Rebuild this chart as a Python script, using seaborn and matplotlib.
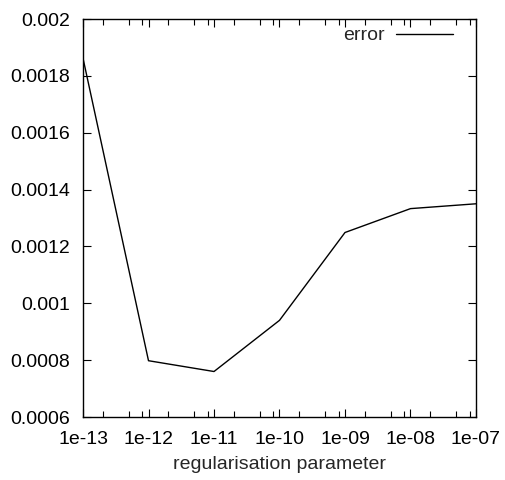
import matplotlib
matplotlib.use("Agg")
import matplotlib.pyplot as plt
import seaborn as sns
import pandas as pd
from matplotlib.ticker import FixedLocator, FixedFormatter, NullFormatter

# data
reg_params = [1e-13, 1e-12, 1e-11, 1e-10, 1e-09, 1e-08, 1e-07]
errors = [0.001862, 0.000798, 0.000760, 0.000940, 0.001249, 0.001333, 0.001350]
x_tick_labels = ["1e-13", "1e-12", "1e-11", "1e-10", "1e-09", "1e-08", "1e-07"]
y_ticks = [0.0006, 0.0008, 0.001, 0.0012, 0.0014, 0.0016, 0.0018, 0.002]
y_tick_labels = ["0.0006", "0.0008", "0.001", "0.0012", "0.0014", "0.0016", "0.0018", "0.002"]
minor_subs = [2, 5, 8]
series_name = "error"
x_label = "regularisation parameter"

sns.set_theme(style="ticks")
plt.rcParams["font.family"] = ["Liberation Sans", "DejaVu Sans"]

fig = plt.figure(figsize=(5.06, 4.80), dpi=100)
ax = fig.add_axes([83 / 506, 1 - 417 / 480, (476 - 83) / 506, (417 - 19) / 480])

df = pd.DataFrame({"x": reg_params, "y": errors, "series": series_name})
sns.lineplot(data=df, x="x", y="y", hue="series", palette=["black"], ax=ax, linewidth=1.0)

ax.set_xscale("log")
ax.set_xlim(reg_params[0], reg_params[-1])
ax.set_ylim(y_ticks[0], y_ticks[-1])

ax.xaxis.set_major_locator(FixedLocator(reg_params))
ax.xaxis.set_major_formatter(FixedFormatter(x_tick_labels))
ax.xaxis.set_minor_locator(FixedLocator([d * s for d in reg_params[:-1] for s in minor_subs]))
ax.xaxis.set_minor_formatter(NullFormatter())
ax.yaxis.set_major_locator(FixedLocator(y_ticks))
ax.yaxis.set_major_formatter(FixedFormatter(y_tick_labels))

ax.tick_params(which="major", direction="in", length=6, width=0.8, top=True, right=True,
               labelsize=14, colors="black")
ax.tick_params(axis="x", which="major", pad=10)
ax.tick_params(axis="y", which="major", pad=9)
ax.tick_params(axis="x", which="minor", direction="in", length=4, width=0.8,
               top=True, bottom=True, color="black")
for s in ax.spines.values():
    s.set_visible(True)
    s.set_linewidth(1.0)
    s.set_color("black")

ax.set_xlabel(x_label, fontsize=14, labelpad=6)
ax.set_ylabel("")

leg = ax.legend(loc="upper right", frameon=False, fontsize=14, markerfirst=False,
                handlelength=2.9, borderaxespad=0.0, handletextpad=0.6,
                bbox_to_anchor=(0.96, 1.0))

fig.savefig("out.png", dpi=100)
